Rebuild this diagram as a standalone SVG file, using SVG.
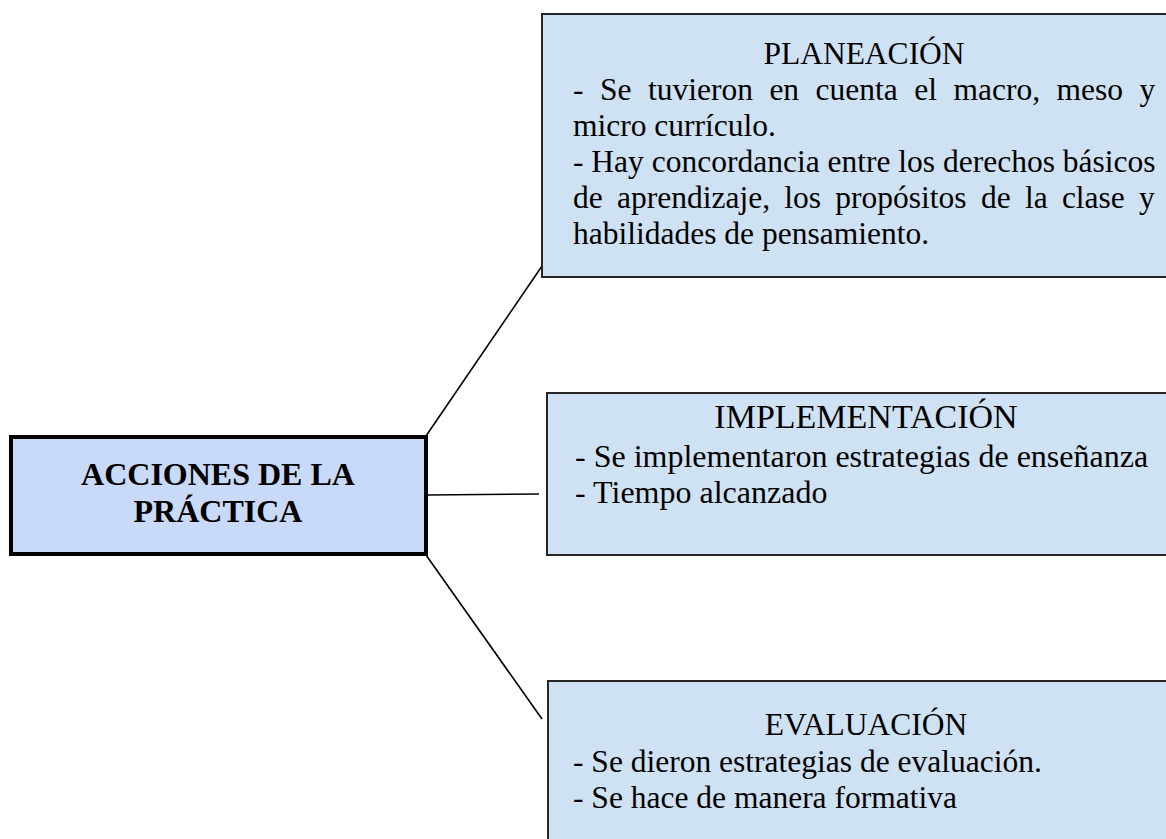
<svg xmlns="http://www.w3.org/2000/svg" width="1166" height="839" viewBox="0 0 1166 839">
<style>
.box{fill:#cfe2f3;stroke:#262626;stroke-width:2}
.main{fill:#c9daf8;stroke:#000;stroke-width:4}
.t{font-family:"Liberation Serif","Times New Roman",serif;font-size:31.5px;fill:#000}
.h{text-anchor:middle}
.b{font-weight:bold;font-size:32px;text-anchor:middle}
.conn line{stroke:#000;stroke-width:1.6}
</style>
<rect width="1166" height="839" fill="#fff"/>
<g id="connectors" class="conn">
<line x1="426" y1="436" x2="542" y2="266"/>
<line x1="427" y1="495" x2="539" y2="494"/>
<line x1="426" y1="555" x2="542" y2="719"/>
</g>
<g id="main">
<rect class="main" x="11" y="437" width="415" height="117"/>
<text class="t b" x="218" y="485">ACCIONES DE LA</text>
<text class="t b" x="218" y="522">PRÁCTICA</text>
</g>
<g id="planeacion">
<rect class="box" x="542" y="14" width="640" height="263"/>
<text class="t h" x="864" y="64">PLANEACIÓN</text>
<text class="t" x="573" y="100" word-spacing="8.6">- Se tuvieron en cuenta el macro, meso y</text>
<text class="t" x="573" y="136">micro currículo.</text>
<text class="t" x="573" y="172">- Hay concordancia entre los derechos básicos</text>
<text class="t" x="573" y="208" word-spacing="6.4">de aprendizaje, los propósitos de la clase y</text>
<text class="t" x="573" y="244">habilidades de pensamiento.</text>
</g>
<g id="implementacion">
<rect class="box" x="547" y="393" width="640" height="162"/>
<text class="t h" x="866" y="428" style="font-size:34px">IMPLEMENTACIÓN</text>
<text class="t" x="575" y="467" style="font-size:32px">- Se implementaron estrategias de enseñanza</text>
<text class="t" x="575" y="503" style="font-size:32px">- Tiempo alcanzado</text>
</g>
<g id="evaluacion">
<rect class="box" x="548" y="681" width="640" height="180"/>
<text class="t h" x="866" y="735">EVALUACIÓN</text>
<text class="t" x="573" y="772">- Se dieron estrategias de evaluación.</text>
<text class="t" x="573" y="808">- Se hace de manera formativa</text>
</g>
</svg>
